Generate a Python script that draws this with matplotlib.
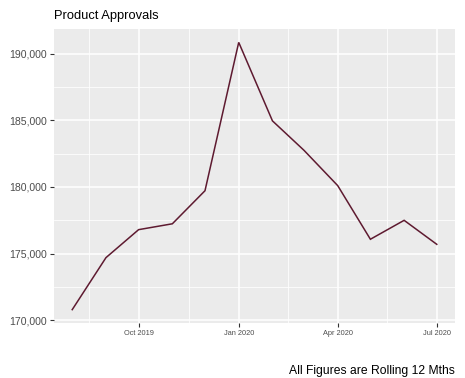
import matplotlib
matplotlib.use("Agg")
import matplotlib.pyplot as plt
import matplotlib.dates as mdates
import matplotlib.ticker as mticker
import numpy as np
import datetime as dt

months = ["2019-08", "2019-09", "2019-10", "2019-11", "2019-12", "2020-01",
          "2020-02", "2020-03", "2020-04", "2020-05", "2020-06", "2020-07"]
approvals = [170800, 174700, 176800, 177240, 179720, 190850,
             184960, 182750, 180100, 176080, 177500, 175700]
x_tick_labels = ["Oct 2019", "Jan 2020", "Apr 2020", "Jul 2020"]
x_tick_dates = ["2019-10", "2020-01", "2020-04", "2020-07"]
y_ticks = [170000, 175000, 180000, 185000, 190000]

plt.rcParams['font.family'] = ['Liberation Sans', 'DejaVu Sans']

dates = [dt.datetime.strptime(m, "%Y-%m") for m in months]
xd = mdates.date2num(dates)
tick_d = mdates.date2num([dt.datetime.strptime(m, "%Y-%m") for m in x_tick_dates])

fig = plt.figure(figsize=(4.65, 3.78), dpi=100)
ax = fig.add_axes([54/465, 1-323/378, (455-54)/465, (323-29)/378])
ax.set_facecolor("#EBEBEB")

ax.plot(xd, approvals, color="#5E1A30", lw=1.1, zorder=3, solid_joinstyle='miter')

span = xd[-1] - xd[0]
ax.set_xlim(xd[0] - 0.05*span, xd[-1] + 0.05*span)
yr = max(approvals) - min(approvals)
ax.set_ylim(min(approvals) - 0.05*yr, max(approvals) + 0.05*yr)

ax.set_xticks(tick_d)
ax.set_xticklabels(x_tick_labels)
minor_x = [(tick_d[i] + tick_d[i+1]) / 2 for i in range(len(tick_d)-1)]
minor_x = [tick_d[0] - (tick_d[1]-tick_d[0])/2] + minor_x
ax.set_xticks(minor_x, minor=True)
ax.set_yticks(y_ticks)
ax.set_yticks([v + 2500 for v in y_ticks[:-1]], minor=True)
ax.yaxis.set_major_formatter(mticker.FuncFormatter(lambda v, p: f"{int(v):,}"))

ax.grid(which='major', color='white', lw=1.1)
ax.grid(which='minor', color='white', lw=0.55)
ax.set_axisbelow(True)
for s in ax.spines.values():
    s.set_visible(False)

ax.tick_params(axis='both', which='major', color='#333333', length=3.2, width=0.8)
ax.tick_params(axis='both', which='minor', length=0)
ax.tick_params(axis='y', labelsize=7.6, labelcolor='#4D4D4D', pad=2)
ax.tick_params(axis='x', labelsize=5.3, labelcolor='#4D4D4D', pad=2)

fig.text(54/465, 1-19/378, "Product Approvals", fontsize=9.3, color='black',
         ha='left', va='baseline')
fig.text(455/465, 1-374/378, "All Figures are Rolling 12 Mths", fontsize=8.7,
         color='black', ha='right', va='baseline')

fig.savefig("out.png", dpi=100, facecolor='white')
